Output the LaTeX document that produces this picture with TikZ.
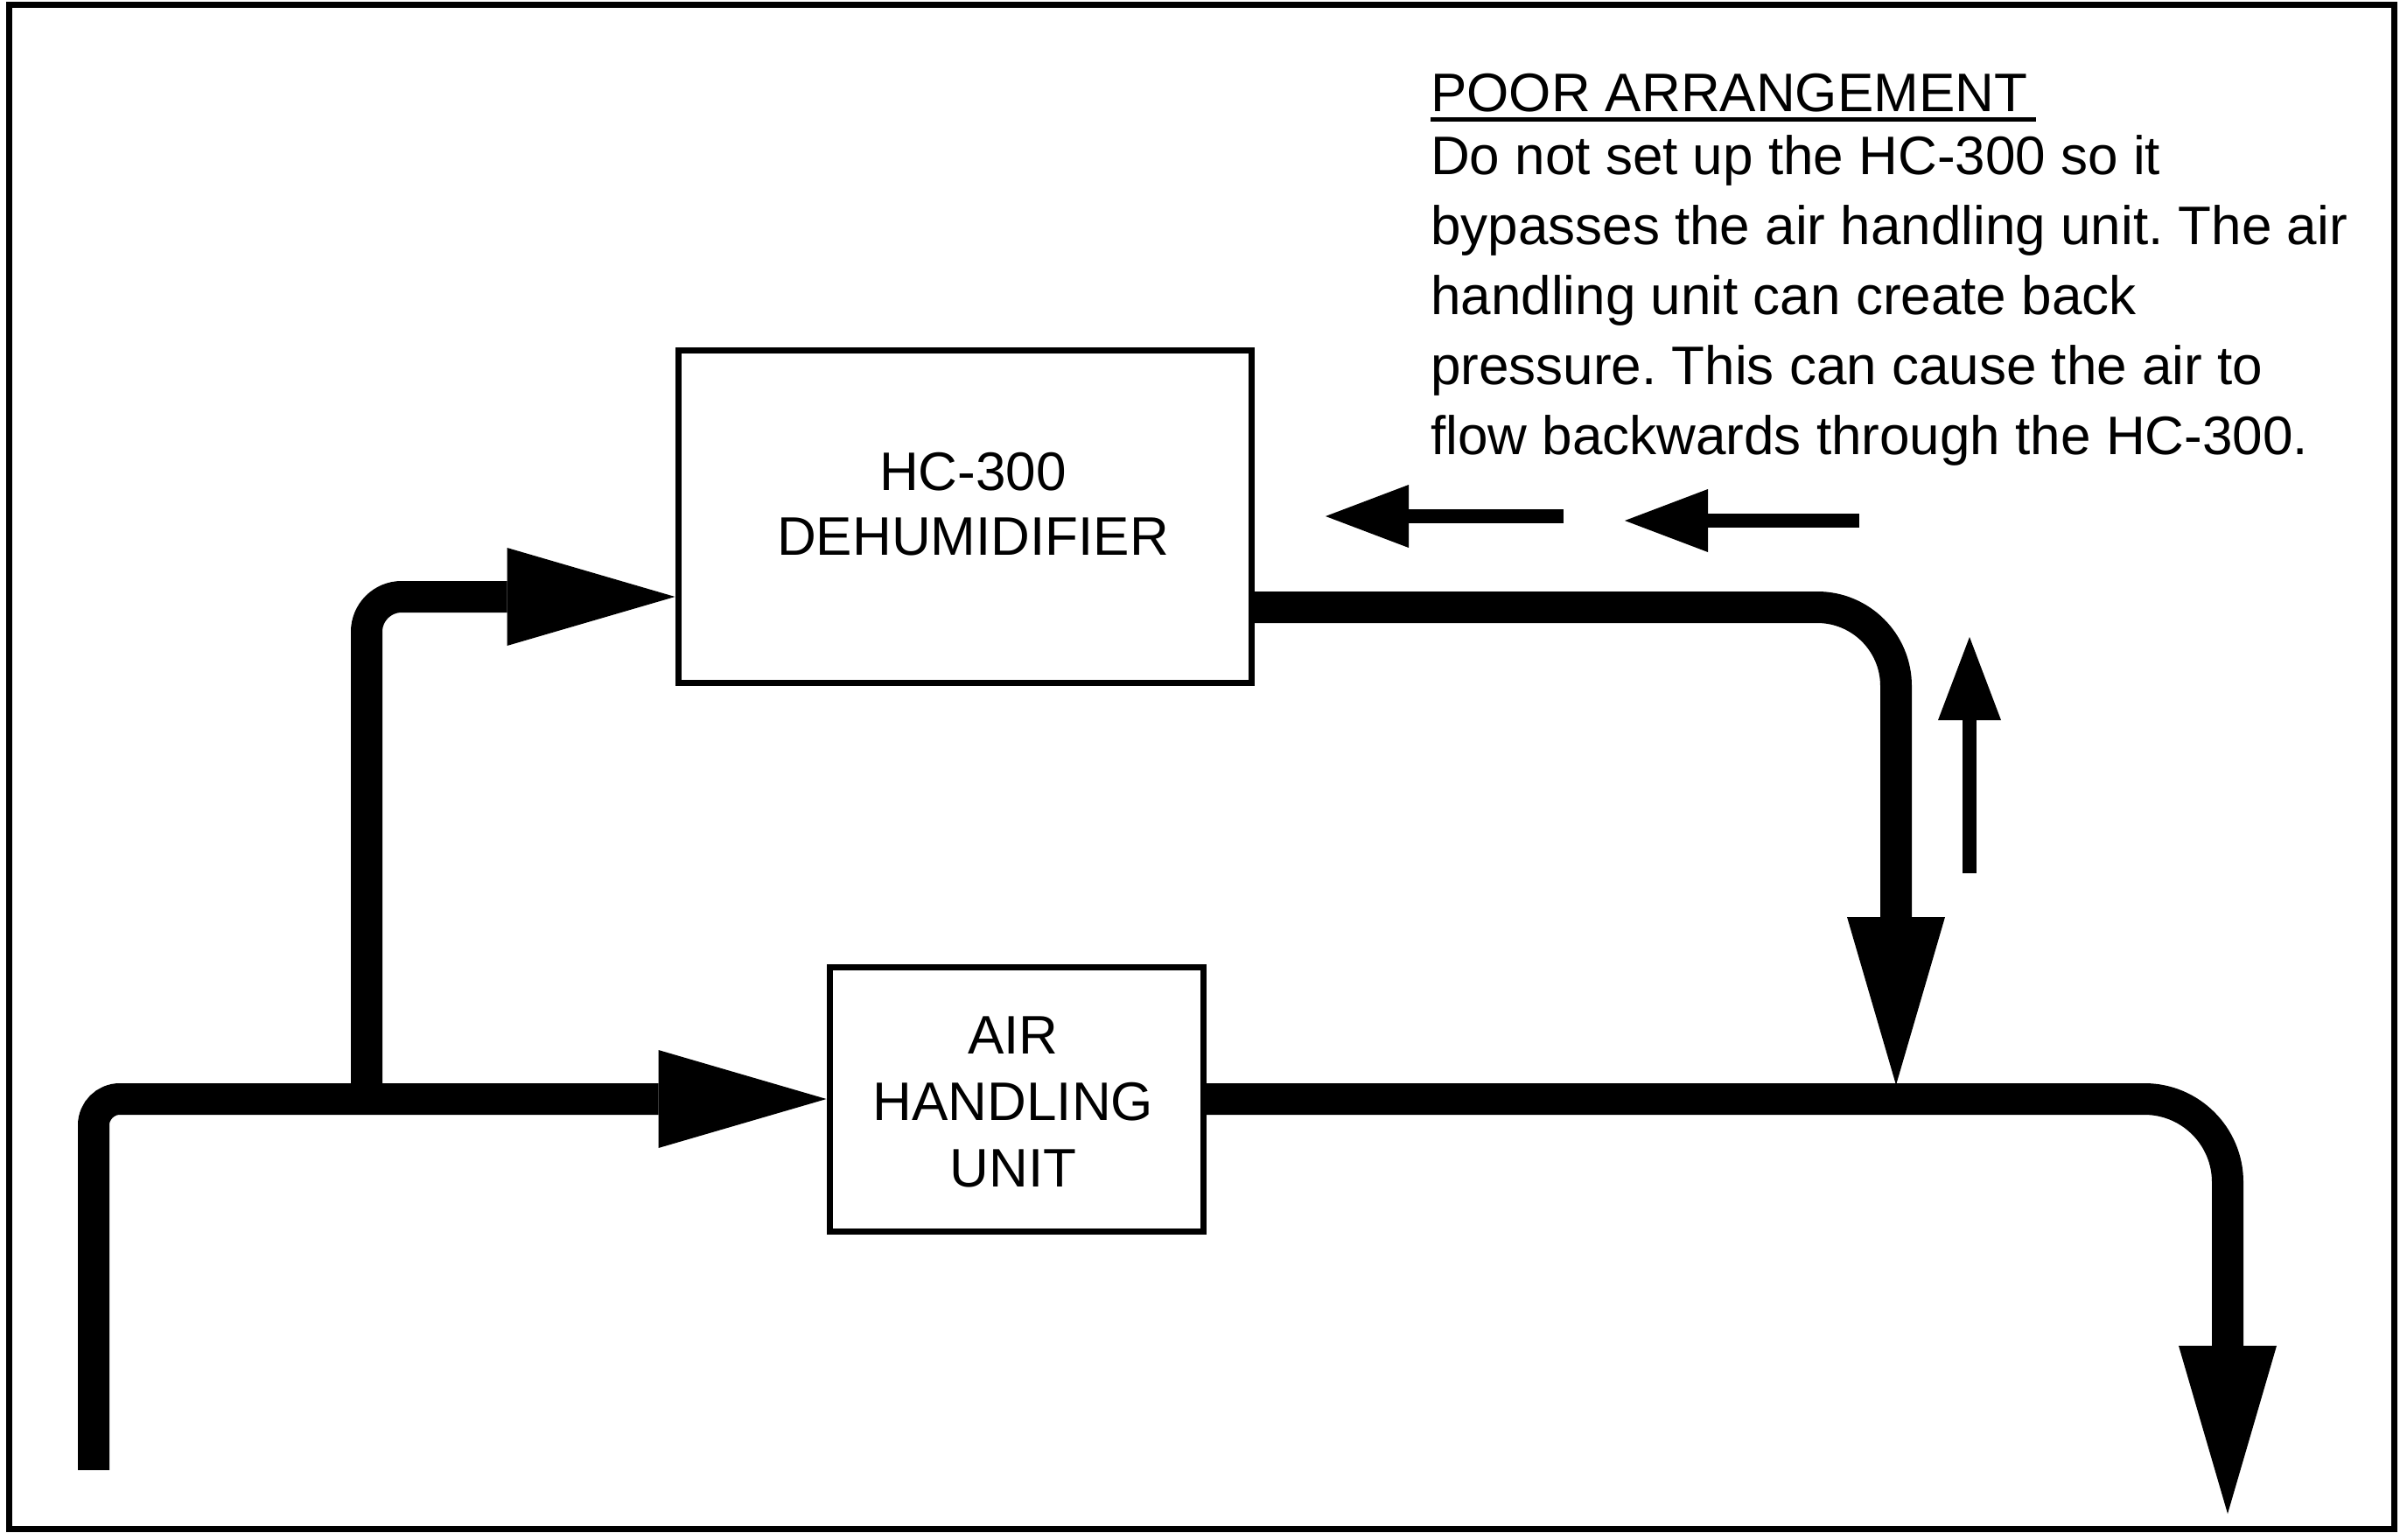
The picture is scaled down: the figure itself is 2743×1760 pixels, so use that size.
\documentclass[tikz,border=0pt]{standalone}
\usepackage{fontspec}
\setmainfont{Liberation Sans}
\usetikzlibrary{arrows.meta}
\frenchspacing
\tikzset{
  box/.style={draw, line width=7pt, inner sep=0pt},
  lbl/.style={font=\fontsize{62pt}{76pt}\selectfont, align=center, inner sep=0pt},
  para/.style={font=\fontsize{62pt}{80pt}\selectfont, align=left, inner sep=0pt},
  flow/.style={line width=36pt, -{Triangle[length=192pt,width=112pt,line width=0pt]}},
  hint/.style={line width=16pt, -{Triangle[length=95pt,width=72pt,line width=0pt]}},
}
\begin{document}
\begin{tikzpicture}[x=1pt,y=-1pt]
\useasboundingbox (0,0) rectangle (2743,1760);
% outer frame
\draw[line width=7pt] (10,6) rectangle (2736,1747);

% units
\node[box, minimum width=655pt, minimum height=380pt] (hc) at (1102.5,590) {};
\node[lbl, font=\fontsize{62pt}{74pt}\selectfont] (hclbl) at (1112,576) {HC-300\\DEHUMIDIFIER};
\node[box, minimum width=427pt, minimum height=302pt] (ahu) at (1161.5,1256) {};
\node[lbl] (ahulbl) at (1158,1259) {AIR\\HANDLING\\UNIT};

% free ends
\coordinate (inlet) at (107,1680);
\coordinate (branch) at (419,1256);
\coordinate (ret) at (2167,1240);
\coordinate (outlet) at (2546,1730);

% main flow
\draw[flow, rounded corners=30pt] (inlet) |- (ahu.west);
\draw[flow, rounded corners=40pt] (branch) |- (hc.west |- 0,682);
\draw[flow, rounded corners=90pt] (hc.east |- 0,694) -| (ret);
\draw[flow, rounded corners=95pt] (ahu.east) -| (outlet);

% back-flow hints
\coordinate (h1s) at (1787,590);
\coordinate (h1e) at (1515,590);
\coordinate (h2s) at (2125,595);
\coordinate (h2e) at (1857,595);
\coordinate (h3s) at (2251,998);
\coordinate (h3e) at (2251,728);
\draw[hint] (h1s) -- (h1e);
\draw[hint] (h2s) -- (h2e);
\draw[hint] (h3s) -- (h3e);

% note
\node[para, anchor=north west] (note) at (1635,84) {\makebox[0pt][l]{\rule[-12pt]{692pt}{5pt}}POOR ARRANGEMENT\\[-8pt]
Do not set up the HC-300 so it\\
bypasses the air handling unit. The air\\
handling unit can create back\\
pressure. This can cause the air to\\
flow backwards through the HC-300.};
\end{tikzpicture}
\end{document}
